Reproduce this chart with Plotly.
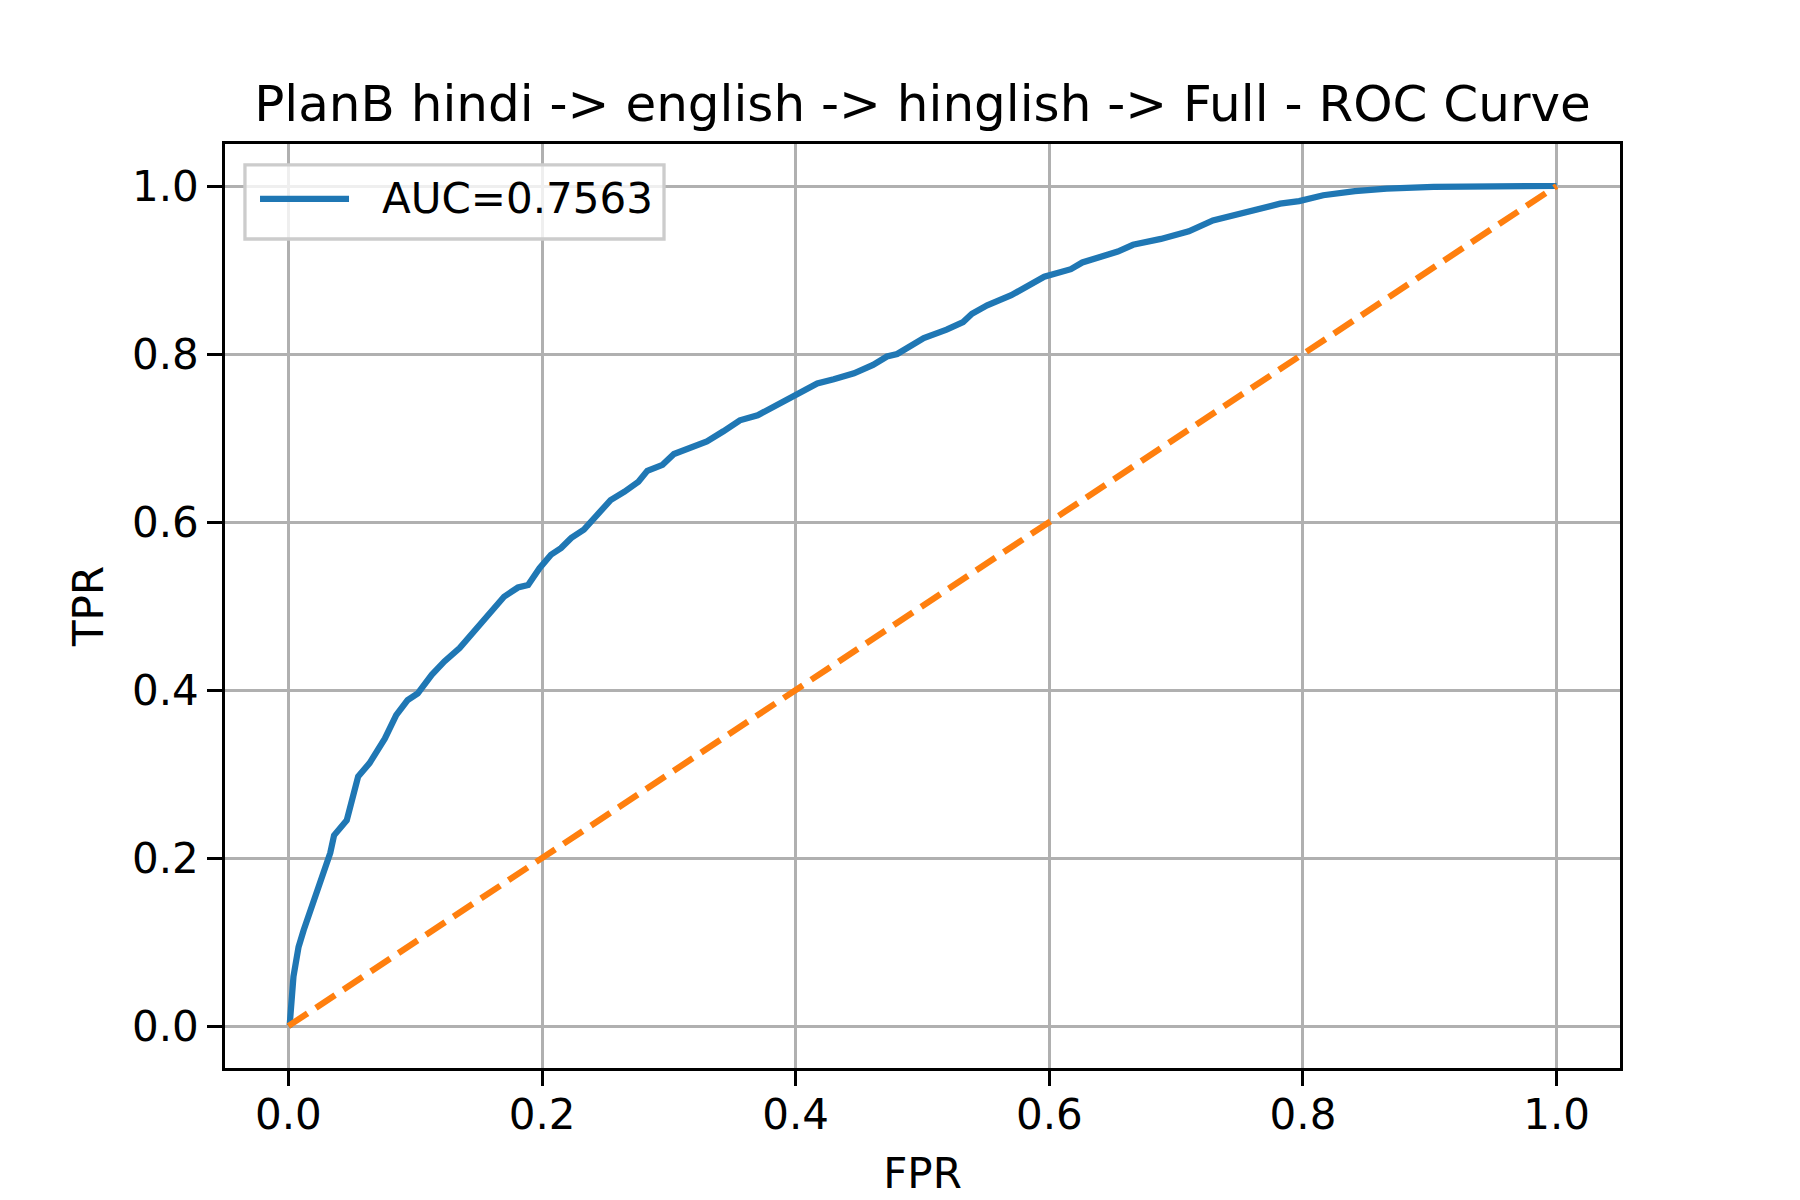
import plotly.graph_objects as go

# ROC curve points
fpr = [0.0, 0.001, 0.004, 0.008, 0.012, 0.019, 0.026, 0.033, 0.036, 0.046,
       0.055, 0.064, 0.076, 0.085, 0.094, 0.102, 0.113, 0.123, 0.135, 0.152,
       0.170, 0.181, 0.189, 0.198, 0.207, 0.215, 0.223, 0.233, 0.244, 0.254,
       0.265, 0.276, 0.283, 0.295, 0.304, 0.320, 0.330, 0.343, 0.356, 0.370,
       0.383, 0.401, 0.417, 0.430, 0.446, 0.461, 0.472, 0.480, 0.501, 0.519,
       0.532, 0.539, 0.551, 0.570, 0.588, 0.596, 0.617, 0.626, 0.654, 0.666,
       0.688, 0.710, 0.729, 0.753, 0.782, 0.797, 0.816, 0.841, 0.866, 0.903,
       1.0]
tpr = [0.0, 0.001, 0.059, 0.094, 0.114, 0.146, 0.174, 0.206, 0.227, 0.245,
       0.297, 0.313, 0.342, 0.370, 0.388, 0.396, 0.418, 0.434, 0.450, 0.479,
       0.511, 0.522, 0.525, 0.545, 0.561, 0.569, 0.581, 0.591, 0.608, 0.626,
       0.636, 0.648, 0.661, 0.668, 0.681, 0.690, 0.696, 0.708, 0.721, 0.727,
       0.738, 0.752, 0.765, 0.770, 0.777, 0.787, 0.797, 0.800, 0.819, 0.829,
       0.838, 0.848, 0.858, 0.870, 0.884, 0.892, 0.901, 0.909, 0.922, 0.930,
       0.937, 0.946, 0.959, 0.968, 0.979, 0.982, 0.989, 0.994, 0.997, 0.999,
       1.0]
auc = 0.7563
chance = [0, 1]

ticks = [0.0, 0.2, 0.4, 0.6, 0.8, 1.0]
tick_text = ["0.0", "0.2", "0.4", "0.6", "0.8", "1.0"]

font = "DejaVu Sans"
blue = "#1f77b4"
orange = "#ff7f0e"

fig = go.Figure()
fig.add_trace(go.Scatter(
    x=fpr, y=tpr, mode="lines", name=f"AUC={auc:.4f}", showlegend=False,
    line=dict(color=blue, width=6.25),
))
fig.add_trace(go.Scatter(
    x=chance, y=chance, mode="lines", showlegend=False,
    line=dict(color=orange, width=6.25, dash="23px,10px"),
))

axis_style = dict(
    range=[-0.05, 1.05],
    tickvals=ticks,
    ticktext=tick_text,
    showline=True, mirror=True, linecolor="black", linewidth=3.3,
    ticks="outside", ticklen=14.6, tickwidth=3.3, tickcolor="black",
    showgrid=True, gridcolor="#b0b0b0", gridwidth=3.3,
    zeroline=False, automargin=False,
    tickfont=dict(family=font, size=42, color="black"),
)

fig.update_xaxes(**axis_style, ticklabelstandoff=-7,
                 title=dict(text="FPR", font=dict(family=font, size=42, color="black"), standoff=21))
fig.update_yaxes(**axis_style,
                 title=dict(text="TPR", font=dict(family=font, size=42, color="black"), standoff=16))

# legend box drawn like matplotlib's (upper left, long line sample)
fig.add_shape(type="rect", xref="paper", yref="paper",
              x0=0.0143, x1=0.3147, y0=0.8972, y1=0.9773,
              fillcolor="rgba(255,255,255,0.8)", line=dict(color="#cccccc", width=3.3),
              layer="above")
fig.add_shape(type="line", xref="paper", yref="paper",
              x0=0.0251, x1=0.0889, y0=0.9405, y1=0.9405,
              line=dict(color=blue, width=6.25), layer="above")
fig.add_annotation(text=f"AUC={auc:.4f}", xref="paper", yref="paper",
                   x=0.1111, y=0.9405, xanchor="left", yanchor="middle",
                   showarrow=False, font=dict(family=font, size=42, color="black"))

fig.update_layout(
    width=1792, height=1192,
    margin=dict(l=217, r=180, t=136, b=132),
    paper_bgcolor="white", plot_bgcolor="white",
    title=dict(
        text="PlanB hindi -> english -> hinglish -> Full - ROC Curve",
        font=dict(family=font, size=50, color="black"),
        x=0.5, xref="paper", xanchor="center",
        y=1 - 95 / 1192, yref="container", yanchor="middle",
    ),
)

fig.write_html("out.html")
